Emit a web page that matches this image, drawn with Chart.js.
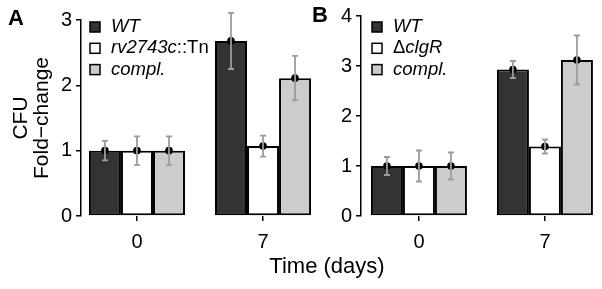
<!DOCTYPE html>
<html><head><meta charset="utf-8">
<script src="https://cdn.jsdelivr.net/npm/chart.js@4"></script>
<style>
html,body{margin:0;padding:0;background:#fff;}
#wrap{position:relative;width:602px;height:289px;overflow:hidden;background:#fff;}
#cA{position:absolute;left:0;top:0;}
#cB{position:absolute;left:300px;top:0;}
.lbl{position:absolute;font-family:'Liberation Sans',Arial,sans-serif;color:#000;white-space:nowrap;}
</style></head>
<body><div id="wrap">
<canvas id="cA" width="330" height="289" style="width:330px;height:289px"></canvas>
<canvas id="cB" width="302" height="289" style="width:302px;height:289px"></canvas>
<div class="lbl" style="left:8px;top:7px;font-size:22px;line-height:22px;font-weight:bold;">A</div>
<div class="lbl" style="left:312px;top:4px;font-size:22px;line-height:22px;font-weight:bold;">B</div>
<div class="lbl" style="left:227px;top:255px;width:200px;text-align:center;font-size:22px;line-height:22px;">Time (days)</div>
</div>
<script>
// ---- data ----
const categories = ['0', '7'];
const yTicksA = [0, 1, 2, 3];
const yTicksB = [0, 1, 2, 3, 4];

// Panel A
const wtA    = [1.00, 2.68];
const wtAErr = [0.15, 0.43];
const mutA    = [1.00, 1.07];
const mutAErr = [0.22, 0.16];
const complA    = [1.00, 2.11];
const complAErr = [0.22, 0.34];

// Panel B
const wtB    = [1.00, 2.93];
const wtBErr = [0.18, 0.17];
const mutB    = [1.00, 1.39];
const mutBErr = [0.31, 0.14];
const complB    = [1.00, 3.12];
const complBErr = [0.27, 0.49];

const FONT = "'Liberation Sans', Arial, sans-serif";
const DARK = '#333333', WHITE = '#ffffff', LIGHT = '#cccccc';

function pts(arr){ return arr.map((v,i)=>({x:i, y:v})); }

const errPlugin = {
  id: 'errbars',
  afterDatasetsDraw(chart){
    const ctx = chart.ctx, ys = chart.scales.y;
    ctx.save();
    chart.data.datasets.forEach((ds, i) => {
      const meta = chart.getDatasetMeta(i);
      meta.data.forEach((bar, j) => {
        const v = ds.data[j].y, e = ds.err[j];
        const x = bar.x;
        const yc = ys.getPixelForValue(v);
        ctx.beginPath(); ctx.arc(x, yc, 3.8, 0, Math.PI*2);
        ctx.fillStyle = '#000'; ctx.fill();
        const yt = ys.getPixelForValue(v + e), yb = ys.getPixelForValue(v - e);
        ctx.strokeStyle = '#9c9c9c'; ctx.lineWidth = 1.8;
        ctx.beginPath();
        ctx.moveTo(x, yt); ctx.lineTo(x, yb);
        ctx.moveTo(x-3, yt); ctx.lineTo(x+3, yt);
        ctx.moveTo(x-3, yb); ctx.lineTo(x+3, yb);
        ctx.stroke();
      });
    });
    ctx.restore();
  }
};

const legendPlugin = {
  id: 'customLegend',
  afterDraw(chart, args, opts){
    const ctx = chart.ctx;
    ctx.save();
    ctx.textBaseline = 'middle';
    opts.items.forEach((it, k) => {
      const y = opts.y0 + k*opts.dy;
      ctx.fillStyle = it.color;
      ctx.fillRect(opts.x, y-5, 10, 10);
      ctx.strokeStyle = '#000'; ctx.lineWidth = 1.5;
      ctx.strokeRect(opts.x, y-5, 10, 10);
      let tx = opts.x + opts.gap;
      ctx.fillStyle = '#000';
      it.parts.forEach(p => {
        ctx.font = (p.i ? 'italic ' : '') + '18.5px ' + FONT;
        ctx.fillText(p.t, tx, y);
        tx += ctx.measureText(p.t).width;
      });
    });
    ctx.restore();
  }
};

function makeChart(id, series, errs, yMax, yTicks, xMin, xMax, yWidth, padTop, padRight, title, legendItems, legX){
  const colors = [DARK, WHITE, LIGHT];
  return new Chart(document.getElementById(id), {
    type: 'bar',
    data: {
      datasets: series.map((s, i) => ({
        data: pts(s), err: errs[i],
        backgroundColor: colors[i], borderColor: '#000', borderWidth: 2,
        borderSkipped: false, categoryPercentage: 0.762, barPercentage: 1.0
      }))
    },
    options: {
      responsive: false, animation: false, devicePixelRatio: 1,
      layout: { padding: { top: padTop, right: padRight, left: 0, bottom: 0 } },
      plugins: { legend: { display: false }, tooltip: { enabled: false },
        customLegend: { x: legX, y0: 27, dy: 21.3, gap: 21, items: legendItems } },
      scales: {
        x: {
          type: 'linear', min: xMin, max: xMax, offset: false,
          afterBuildTicks: s => { s.ticks = categories.map((c, i) => ({ value: i })); },
          afterFit: s => { s.height = 73; },
          ticks: { callback: v => categories[Math.round(v)], color: '#000',
                   font: { family: FONT, size: 20 }, padding: 9, maxRotation: 0 },
          grid: { offset: false, drawOnChartArea: false, drawTicks: true, tickLength: 5, color: '#000', lineWidth: 1.5 },
          border: { display: false }
        },
        y: {
          min: 0, max: yMax,
          afterBuildTicks: s => { s.ticks = yTicks.map(v => ({ value: v })); },
          afterFit: s => { s.width = yWidth; },
          ticks: { color: '#000', font: { family: FONT, size: 20 }, padding: 4 },
          grid: { drawOnChartArea: false, drawTicks: true, tickLength: 5, color: '#000', lineWidth: 1.5 },
          border: { display: true, color: '#000', width: 1.5 },
          title: title
        }
      }
    },
    plugins: [errPlugin, legendPlugin]
  });
}

makeChart('cA', [wtA, mutA, complA], [wtAErr, mutAErr, complAErr], 3, yTicksA,
  -0.444, 1.452, 81, 20, 10,
  { display: true, text: ['CFU', 'Fold\u2212change'], color: '#000',
    font: { family: FONT, size: 21, lineHeight: 1 }, padding: { top: 11, bottom: 0 } },
  [ { color: DARK, parts: [{ t: 'WT', i: true }] },
    { color: WHITE, parts: [{ t: 'rv2743c', i: true }, { t: '::Tn', i: false }] },
    { color: LIGHT, parts: [{ t: 'compl.', i: true }] } ], 90);

makeChart('cB', [wtB, mutB, complB], [wtBErr, mutBErr, complBErr], 4, yTicksB,
  -0.46, 1.445, 61, 16, 1,
  { display: false },
  [ { color: DARK, parts: [{ t: 'WT', i: true }] },
    { color: WHITE, parts: [{ t: '\u0394', i: false }, { t: 'clgR', i: true }] },
    { color: LIGHT, parts: [{ t: 'compl.', i: true }] } ], 72);
</script>
</body></html>
